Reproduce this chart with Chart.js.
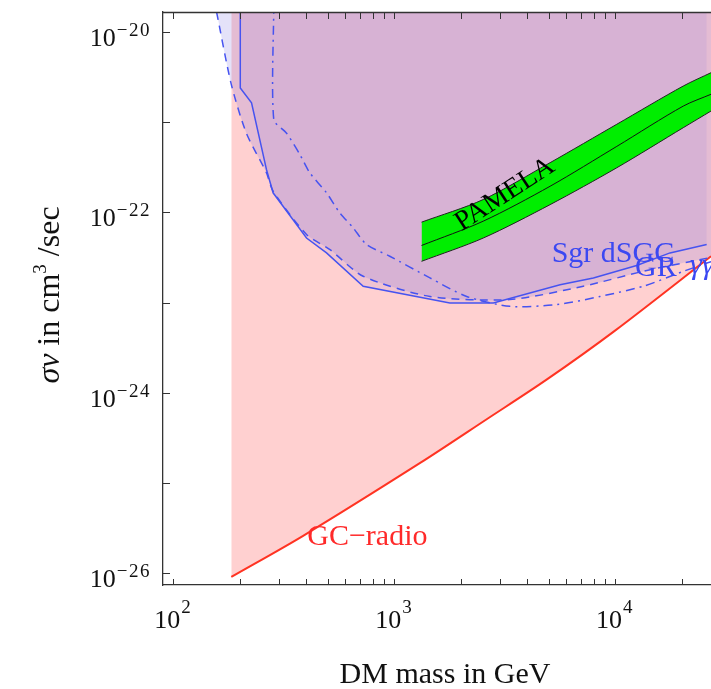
<!DOCTYPE html>
<html><head><meta charset="utf-8">
<script src="https://cdn.jsdelivr.net/npm/chart.js@4.4.0/dist/chart.umd.min.js"></script>
<style>html,body{margin:0;padding:0;background:#fff;overflow:hidden}canvas{display:block}</style>
</head><body>
<canvas id="c" width="711" height="689"></canvas>
<script>
// ---- data (DM mass in GeV, sigma v in cm^3/s) ----
const gcRadioMass  = [183, 387, 1306, 2624, 4898, 10000, 27200];
const gcRadioSigma = [9.1e-27, 2.6e-26, 1.66e-25, 5.1e-25, 1.4e-24, 4.9e-24, 3.27e-23];

const solidMass  = [201, 201, 226, 264, 283, 401, 494, 724, 1787, 2812, 5640, 7980, 12530, 17740, 26000];
const solidSigma = [2e-20, 2.4e-21, 1.64e-21, 3.0e-22, 1.65e-22, 5.2e-23, 3.56e-23, 1.52e-23, 9.9e-24, 9.9e-24, 1.58e-23, 1.88e-23, 2.58e-23, 3.56e-23, 4.4e-23];

const dashedMass  = [157, 183, 214, 264, 283, 401, 512, 724, 1452, 3340, 7180, 14420, 27200];
const dashedSigma = [1.667e-20, 2.63e-21, 7.6e-22, 2.75e-22, 1.72e-22, 5.7e-23, 3.87e-23, 1.96e-23, 1.17e-23, 1.08e-23, 1.52e-23, 2.32e-23, 3.16e-23];

const dashDotMass  = [285, 285, 325, 374, 415, 494, 567, 652, 750, 955, 1452, 2130, 3340, 5440, 8550, 13430, 20370, 27200];
const dashDotSigma = [2e-20, 1.07e-21, 7.6e-22, 4.4e-22, 2.75e-22, 1.65e-22, 9.9e-23, 6.75e-23, 4.4e-23, 3.27e-23, 1.88e-23, 1.17e-23, 9.1e-24, 9.5e-24, 1.17e-23, 1.52e-23, 2.22e-23, 2.85e-23];

const pamelaMass   = [1330, 2530, 5080, 10190, 20370, 27200];
const pamelaUpper  = [7.8e-23, 1.39e-22, 3.56e-22, 9.5e-22, 2.52e-21, 3.54e-21];
const pamelaLower  = [2.87e-23, 5.2e-23, 1.22e-22, 3.13e-22, 8.7e-22, 1.33e-21];
const pamelaCenter = [4.3e-23, 8.0e-23, 1.95e-22, 5.4e-22, 1.51e-21, 2.04e-21];

// ---- axes ----
const xMin = 89.8, xMax = 27200;
const yMin = 7.41e-27, yMax = 1.667e-20;
const xTickValues = [100,200,300,400,500,600,700,800,900,1000,2000,3000,4000,5000,6000,7000,8000,9000,10000,20000];
const xLabelExps = [2, 3, 4];
const yTickValues = [1e-26, 1e-25, 1e-24, 1e-23, 1e-22, 1e-21, 1e-20];
const yLabelExps = [-20, -22, -24, -26];

// ---- labels (anchored in data coordinates) ----
const labels = [
  {text: 'GC\u2212radio', x: 404, y: 2.06e-26, color: '#ff2a2a'},
  {text: 'Sgr dS', x: 5164, y: 2.85e-23, color: '#3b48f2'},
  {text: 'GC', x: 12000, y: 2.85e-23, color: '#3b48f2'},
  {text: 'GR', x: 12320, y: 1.95e-23, color: '#3b48f2'},
  {text: '\u03b3\u03b3', x: 21880, y: 2.1e-23, color: '#3b48f2', italic: true}
];
const pamelaLabel = {text: 'PAMELA', x: 3177, y: 1.58e-22};

const pts = (xs, ys) => xs.map((v, i) => ({x: v, y: ys[i]}));
const BLUE = '#4653f0';
const SERIF = '"Liberation Serif", "DejaVu Serif", serif';

const deco = {
  id: 'deco',
  afterDraw(chart) {
    const {ctx, chartArea: a, scales: {x, y}} = chart;
    ctx.save();
    ctx.strokeStyle = '#333';
    ctx.lineWidth = 1.3;
    ctx.beginPath(); ctx.moveTo(a.left, a.top + 0.5); ctx.lineTo(a.right, a.top + 0.5); ctx.stroke();
    ctx.lineWidth = 1;
    x.ticks.forEach(t => {
      const px = Math.round(x.getPixelForValue(t.value)) + 0.5;
      ctx.beginPath();
      ctx.moveTo(px, a.bottom); ctx.lineTo(px, a.bottom - 6);
      ctx.moveTo(px, a.top); ctx.lineTo(px, a.top + 7);
      ctx.stroke();
    });
    y.ticks.forEach(t => {
      const py = Math.round(y.getPixelForValue(t.value)) + 0.5;
      ctx.beginPath(); ctx.moveTo(a.left, py); ctx.lineTo(a.left + 7, py); ctx.stroke();
    });
    // tick labels
    ctx.fillStyle = '#111';
    ctx.textBaseline = 'alphabetic';
    const base = '26px ' + SERIF, sup = '19px ' + SERIF;
    const supW = s => { ctx.font = sup; ctx.letterSpacing = '1.5px'; const w = ctx.measureText(s).width; ctx.letterSpacing = '0px'; return w; };
    xLabelExps.forEach(e => {
      const px = x.getPixelForValue(Math.pow(10, e));
      ctx.font = base; const w1 = ctx.measureText('10').width;
      const s = String(e).replace('-', '\u2212'); const w2 = supW(s);
      const x0 = px - (w1 + w2 + 1) / 2;
      ctx.textAlign = 'left';
      ctx.font = base; ctx.fillText('10', x0, 628);
      ctx.font = sup; ctx.letterSpacing = '1.5px'; ctx.fillText(s, x0 + w1 + 1, 613); ctx.letterSpacing = '0px';
    });
    yLabelExps.forEach(e => {
      const py = y.getPixelForValue(Math.pow(10, e));
      const s = String(e).replace('-', '\u2212');
      const w2 = supW(s);
      ctx.textAlign = 'left';
      ctx.font = sup; ctx.letterSpacing = '1.5px'; ctx.fillText(s, 151 - w2, py + 4); ctx.letterSpacing = '0px';
      ctx.textAlign = 'right';
      ctx.font = base; ctx.fillText('10', 150 - w2, py + 14);
    });
    // x title
    ctx.font = '30px ' + SERIF; ctx.textAlign = 'center';
    ctx.fillText('DM mass in GeV', 445, 683);
    // y title
    ctx.save();
    ctx.translate(59, 295); ctx.rotate(-Math.PI / 2);
    const parts = [
      {t: '\u03c3', f: 'italic 32px ' + SERIF, dy: 0},
      {t: 'v', f: 'italic 32px ' + SERIF, dy: 0},
      {t: ' in cm', f: '32px ' + SERIF, dy: 0},
      {t: '3', f: '19px ' + SERIF, dy: -13},
      {t: ' /sec', f: '32px ' + SERIF, dy: 0}
    ];
    let tw = 0; parts.forEach(p => { ctx.font = p.f; p.w = ctx.measureText(p.t).width; tw += p.w; });
    let cx = -tw / 2; ctx.textAlign = 'left';
    parts.forEach(p => { ctx.font = p.f; ctx.fillText(p.t, cx, p.dy); cx += p.w; });
    ctx.restore();
    // annotations
    ctx.save();
    ctx.beginPath(); ctx.rect(a.left, a.top, a.right - a.left, a.bottom - a.top); ctx.clip();
    ctx.textAlign = 'left';
    labels.forEach(l => {
      ctx.font = (l.italic ? 'italic ' : '') + '30px ' + SERIF;
      ctx.fillStyle = l.color;
      ctx.fillText(l.text, x.getPixelForValue(l.x), y.getPixelForValue(l.y));
    });
    ctx.translate(x.getPixelForValue(pamelaLabel.x), y.getPixelForValue(pamelaLabel.y));
    ctx.rotate(-33 * Math.PI / 180);
    ctx.font = '28px ' + SERIF; ctx.fillStyle = '#000'; ctx.textAlign = 'center'; ctx.textBaseline = 'middle';
    ctx.fillText(pamelaLabel.text, 0, 0);
    ctx.restore();
    ctx.restore();
  }
};

new Chart(document.getElementById('c'), {
  type: 'line',
  data: {
    datasets: [
      {label: 'PAMELA upper', data: pts(pamelaMass, pamelaUpper), borderColor: '#222', borderWidth: 1, fill: false, tension: 0.3, order: 0},
      {label: 'PAMELA lower', data: pts(pamelaMass, pamelaLower), borderColor: '#222', borderWidth: 1, fill: 0, backgroundColor: 'rgb(0,238,0)', tension: 0.3, order: 1},
      {label: 'PAMELA best fit', data: pts(pamelaMass, pamelaCenter), borderColor: '#111', borderWidth: 1, fill: false, tension: 0.3, order: 0},
      {label: 'solid', data: pts(solidMass, solidSigma), borderColor: BLUE, borderWidth: 1.5, fill: 'end', backgroundColor: 'rgba(120,110,225,0.12)', tension: 0, order: 3},
      {label: 'dashed', data: pts(dashedMass, dashedSigma), borderColor: BLUE, borderWidth: 1.5, borderDash: [8, 6], fill: 'end', backgroundColor: 'rgba(120,110,225,0.2)', tension: 0.25, order: 4},
      {label: 'dash-dot', data: pts(dashDotMass, dashDotSigma), borderColor: BLUE, borderWidth: 1.5, borderDash: [9, 5, 2, 5], fill: false, tension: 0.25, order: 2},
      {label: 'GC-radio', data: pts(gcRadioMass, gcRadioSigma), borderColor: '#ff3322', borderWidth: 2, fill: 'end', backgroundColor: 'rgb(255,208,208)', tension: 0.3, order: 5}
    ]
  },
  options: {
    responsive: false, animation: false, devicePixelRatio: 1,
    layout: {padding: {top: 12, left: 0, right: 0, bottom: 0}},
    elements: {point: {radius: 0, hoverRadius: 0}},
    plugins: {legend: {display: false}, tooltip: {enabled: false}, filler: {drawTime: 'beforeDatasetsDraw'}},
    scales: {
      x: {
        type: 'logarithmic', position: 'bottom', min: xMin, max: xMax,
        afterBuildTicks: s => { s.ticks = xTickValues.map(v => ({value: v})); },
        afterFit: s => { s.height = 104; },
        ticks: {display: false},
        grid: {display: false},
        border: {display: true, color: '#333', width: 1.3}
      },
      y: {
        type: 'logarithmic', position: 'left', min: yMin, max: yMax,
        afterBuildTicks: s => { s.ticks = yTickValues.map(v => ({value: v})); },
        afterFit: s => { s.width = 163; },
        ticks: {display: false},
        grid: {display: false},
        border: {display: true, color: '#333', width: 1.3}
      }
    }
  },
  plugins: [deco]
});
</script>
</body></html>
